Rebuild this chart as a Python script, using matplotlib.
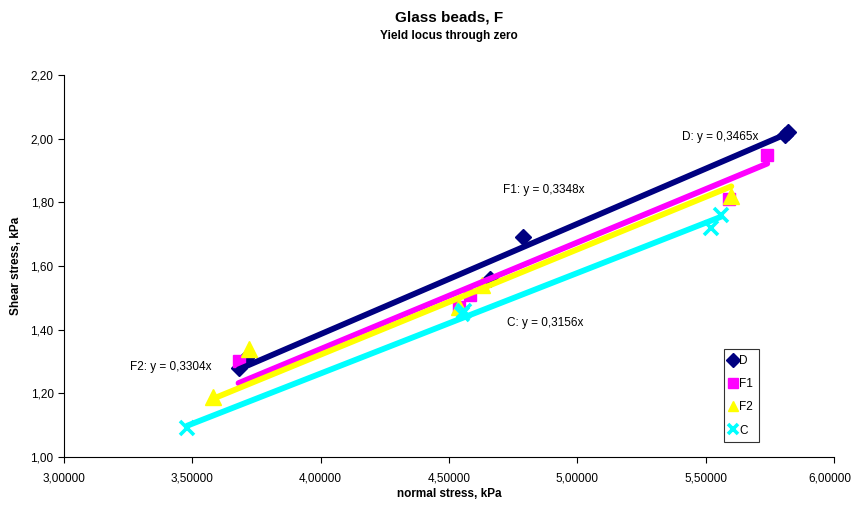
import matplotlib
matplotlib.use("Agg")
import matplotlib.pyplot as plt
from matplotlib.ticker import FuncFormatter, MultipleLocator

plt.rcParams["font.family"] = ["Liberation Sans", "DejaVu Sans"]

# Measured yield locus points (normal stress, shear stress) in kPa
series_names = ["D", "F1", "F2", "C"]
d_x = [3.68, 3.71, 4.66, 4.79, 5.81, 5.82]
d_y = [1.28, 1.31, 1.56, 1.69, 2.01, 2.02]
f1_x = [3.68, 4.54, 4.58, 5.59, 5.74]
f1_y = [1.30, 1.47, 1.51, 1.81, 1.95]
f2_x = [3.58, 3.72, 4.54, 4.63, 5.60]
f2_y = [1.19, 1.34, 1.47, 1.54, 1.82]
c_x = [3.48, 4.55, 4.56, 5.52, 5.56]
c_y = [1.09, 1.45, 1.46, 1.72, 1.76]

# Slopes of the linear fits forced through the origin
slopes = [0.3465, 0.3348, 0.3304, 0.3156]

x_max = 6.0

xs = [d_x, f1_x, f2_x, c_x]
ys = [d_y, f1_y, f2_y, c_y]
colors = ["#000080", "#FF00FF", "#FFFF00", "#00FFFF"]
markers = ["D", "s", "^", "x"]
msizes = [8, 9, 11, 10]

fig = plt.figure(figsize=(8.51, 5.11), dpi=100)
ax = fig.add_axes([64 / 851, 1 - 457 / 511, (834 - 64) / 851, (457 - 75) / 511])

for name, x, y, col, mk, ms in zip(series_names, xs, ys, colors, markers, msizes):
    if mk == "x":
        ax.plot(x, y, linestyle="none", marker=mk, color=col, markersize=ms,
                markeredgewidth=2.6, label=name, zorder=3)
    else:
        ax.plot(x, y, linestyle="none", marker=mk, color=col, markersize=ms,
                markeredgecolor=col, label=name, zorder=3)

# Trend lines span each series' own x range
for x, k, col in zip(xs, slopes, colors):
    x0, x1 = min(x), max(x)
    ax.plot([x0, x1], [k * x0, k * x1], color=col, linewidth=4.2,
            solid_capstyle="round", zorder=4)

def eq_text(name, k):
    return f"{name}: y = {k:.4f}x".replace(".", ",")

label_pos = [(5.556, 2.005), (4.87, 1.839), (3.417, 1.283), (4.874, 1.421)]
for name, k, (lx, ly) in zip(series_names, slopes, label_pos):
    ax.text(lx, ly, eq_text(name, k), ha="center", va="center", fontsize=8.5, zorder=5)

def x_fmt(v):
    return f"{v:.5f}".replace(".", ",")

ax.set_xlim(3.0, x_max)
ax.set_ylim(1.0, 2.2)
ax.xaxis.set_major_locator(MultipleLocator(0.5))
ax.yaxis.set_major_locator(MultipleLocator(0.2))
# the last x label is drawn separately, nudged left to stay on the canvas
ax.xaxis.set_major_formatter(FuncFormatter(lambda v, p: "" if v >= x_max - 1e-9 else x_fmt(v)))
ax.yaxis.set_major_formatter(FuncFormatter(lambda v, p: f"{v:.2f}".replace(".", ",")))
ax.tick_params(axis="both", direction="out", length=4, width=0.8, labelsize=8.5)
ax.tick_params(axis="x", pad=7)
ax.annotate(x_fmt(x_max), xy=(x_max, 0), xycoords=("data", "axes fraction"),
            xytext=(-3, -(4 + 7)), textcoords="offset points",
            ha="center", va="top", fontsize=8.5, annotation_clip=False)
for side in ("top", "right"):
    ax.spines[side].set_visible(False)
for side in ("left", "bottom"):
    ax.spines[side].set_linewidth(0.8)

ax.set_xlabel("normal stress, kPa", fontsize=8.5, fontweight="bold")
ax.set_ylabel("Shear stress, kPa", fontsize=8.5, fontweight="bold")
ax.xaxis.set_label_coords(0.5, -0.081)
ax.yaxis.set_label_coords(-0.055, 0.5)

fig.text(449 / 851, 1 - 17 / 511, "Glass beads, F", ha="center", va="center",
         fontsize=11, fontweight="bold")
fig.text(449 / 851, 1 - 36 / 511, "Yield locus through zero", ha="center", va="center",
         fontsize=8.5, fontweight="bold")

leg = ax.legend(loc="upper left", bbox_to_anchor=(724 / 851, 1 - 349 / 511),
                bbox_transform=fig.transFigure, frameon=True, fancybox=False,
                fontsize=8.5, handlelength=0.6, handletextpad=0.2,
                borderpad=0.5, labelspacing=0.95, borderaxespad=0)
leg.get_frame().set_edgecolor("black")
leg.get_frame().set_linewidth(0.8)
for h in leg.legend_handles:
    h.set_markersize(7)

fig.savefig("out.png", dpi=100)
